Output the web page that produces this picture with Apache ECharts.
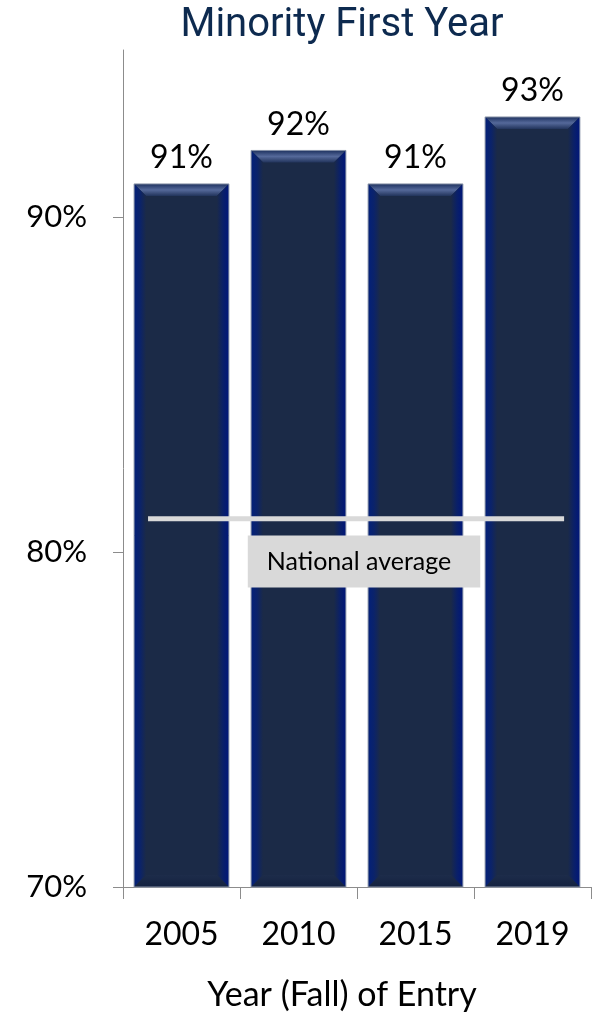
<!DOCTYPE html>
<html>
<head>
<meta charset="utf-8">
<title>Minority First Year</title>
<script src="https://cdn.jsdelivr.net/npm/echarts@6/dist/echarts.min.js"></script>
<style>
  html, body { margin: 0; padding: 0; background: #ffffff; }
  #chart { width: 594px; height: 1017px; }
</style>
</head>
<body>
<div id="chart"></div>
<script>
// Retention of minority first-year students by entry cohort
const categories = ['2005', '2010', '2015', '2019'];
const minorityFirstYear = [91, 92, 91, 93];
const nationalAverage = 81;
const yTickValues = [70, 80, 90];
const axisMin = 70;
const axisMax = 95;

const FONT = 'Lato, "Open Sans", sans-serif';

const chart = echarts.init(document.getElementById('chart'), null, { renderer: 'canvas' });

// Beveled navy column drawn through the axis scales
function renderBevelBar(params, api) {
  const idx = api.value(0);
  const val = api.value(1);
  const top = api.coord([idx, val]);
  const base = api.coord([idx, axisMin]);
  const bw = api.size([1, 0])[0] * 0.81;
  const x0 = top[0] - bw / 2, x1 = top[0] + bw / 2;
  const y0 = top[1], y1 = base[1];
  const b = 12;
  const lg = (x2, y2, stops) => ({
    type: 'linear', x: 0, y: 0, x2: x2, y2: y2,
    colorStops: stops.map((c, i) => ({ offset: i / (stops.length - 1), color: c }))
  });
  return {
    type: 'group',
    children: [
      {
        type: 'rect',
        shape: { x: x0, y: y0, width: bw, height: y1 - y0 },
        style: { fill: '#1b2a47' },
        textContent: {
          style: {
            text: Math.round(val) + '%',
            fontSize: 32, fontFamily: FONT, fill: '#000000'
          }
        },
        textConfig: { position: 'top', distance: 10 }
      },
      {
        type: 'polygon',
        shape: { points: [[x0, y0], [x1, y0], [x1 - b, y0 + b], [x0 + b, y0 + b]] },
        style: { fill: lg(0, 1, ['#1e3260', '#55699a', '#22345c']) }
      },
      {
        type: 'polygon',
        shape: { points: [[x0, y0], [x0 + b, y0 + b], [x0 + b, y1 - b], [x0, y1]] },
        style: { fill: lg(1, 0, ['#03207a', '#0b236a', '#1b2a47']) }
      },
      {
        type: 'polygon',
        shape: { points: [[x1, y0], [x1, y1], [x1 - b, y1 - b], [x1 - b, y0 + b]] },
        style: { fill: lg(1, 0, ['#1b2a47', '#0a2068', '#00167a']) }
      },
      {
        type: 'polygon',
        shape: { points: [[x0, y1], [x0 + b, y1 - b], [x1 - b, y1 - b], [x1, y1]] },
        style: { fill: lg(0, 1, ['#1d2c4a', '#142240']) }
      },
      {
        type: 'rect',
        shape: { x: x0, y: y0, width: bw, height: y1 - y0 },
        style: { fill: 'none', stroke: '#8b95aa', lineWidth: 1 }
      }
    ]
  };
}

const option = {
  backgroundColor: '#ffffff',
  animation: false,
  title: {
    text: 'Minority First Year',
    left: 337,
    top: 1,
    textAlign: 'center',
    textStyle: {
      fontFamily: '"Liberation Sans Narrow", "Roboto", sans-serif',
      fontSize: 40,
      fontWeight: 'normal',
      color: '#0d2a4f'
    }
  },
  grid: { left: 123, right: 3, top: 50, bottom: 127, containLabel: false },
  xAxis: [
    {
      type: 'category',
      data: categories,
      boundaryGap: true,
      name: 'Year (Fall) of Entry',
      nameLocation: 'middle',
      nameGap: 91,
      nameTextStyle: {
        fontFamily: FONT, fontSize: 34, color: '#000000', padding: [0, 30, 0, 0]
      },
      axisLine: { show: true, onZero: false, lineStyle: { color: '#8c8c8c', width: 1 } },
      axisTick: { show: true, alignWithLabel: false, length: 12, lineStyle: { color: '#8c8c8c' } },
      axisLabel: { fontFamily: FONT, fontSize: 32, color: '#000000', margin: 32 }
    },
    {
      type: 'value',
      min: -0.5,
      max: 3.5,
      show: false
    }
  ],
  yAxis: {
    type: 'value',
    min: axisMin,
    max: axisMax,
    interval: 10,
    splitLine: { show: false },
    axisLine: { show: true, onZero: false, lineStyle: { color: '#8c8c8c', width: 1 } },
    axisTick: {
      show: true, length: 10, customValues: yTickValues,
      lineStyle: { color: '#8c8c8c' }
    },
    axisLabel: {
      customValues: yTickValues,
      fontFamily: FONT, fontSize: 31, color: '#000000', margin: 36,
      formatter: v => v + '%'
    }
  },
  series: [
    {
      name: 'Minority First Year',
      type: 'custom',
      xAxisIndex: 0,
      yAxisIndex: 0,
      renderItem: renderBevelBar,
      encode: { x: 0, y: 1 },
      data: minorityFirstYear.map((v, i) => [i, v]),
      z: 2
    },
    {
      name: 'National average',
      type: 'line',
      xAxisIndex: 1,
      yAxisIndex: 0,
      data: [[-0.286, nationalAverage], [3.27, nationalAverage]],
      symbol: 'none',
      lineStyle: { color: '#d9d9d9', width: 5 },
      z: 3,
      markPoint: {
        symbol: 'rect',
        symbolSize: 0,
        data: [{ coord: [1.56, nationalAverage - 1.28] }],
        label: {
          show: true,
          position: 'inside',
          formatter: 'National average',
          fontFamily: FONT,
          fontSize: 25,
          color: '#000000',
          backgroundColor: '#d9d9d9',
          padding: [14, 29, 13, 19]
        }
      }
    }
  ]
};

chart.setOption(option);
</script>
</body>
</html>
